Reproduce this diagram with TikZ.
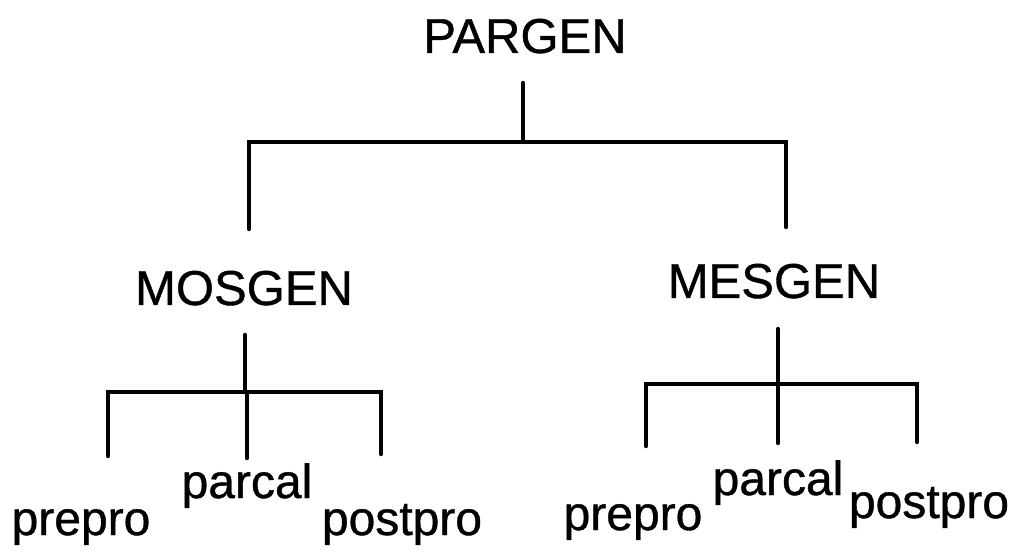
\documentclass[tikz,border=0pt]{standalone}
\usepackage{fontspec}
\setmainfont{Liberation Sans}
\newfontfamily\heavysans{Liberation Sans}[FakeBold=0.8]
\begin{document}
\begin{tikzpicture}[x=1pt,y=-1pt,
  lbl/.style={anchor=base,inner sep=0pt,font=\heavysans\fontsize{48}{48}\selectfont},
  modname/.style={anchor=base,inner sep=0pt,font=\heavysans\fontsize{49}{49}\selectfont},
  wire/.style={line width=4.5pt,line cap=round,line join=miter}]
\useasboundingbox (0,0) rectangle (1018,553);

% module names
\node[modname] (pargen) at (525,53) {PARGEN};
\node[modname] (mosgen) at (244,305) {MOSGEN};
\node[modname] (mesgen) at (774,298) {MESGEN};

\node[lbl] (mprepro)  at (81,535)  {prepro};
\node[lbl] (mparcal)  at (247,498) {parcal};
\node[lbl] (mpostpro) at (402,535) {postpro};

\node[lbl] (eprepro)  at (633,530) {prepro};
\node[lbl] (eparcal)  at (778,495) {parcal};
\node[lbl] (epostpro) at (929,518) {postpro};

% stub ends and junctions of the tree
\coordinate (pargen-out) at (523,83);
\coordinate (pargen-bar) at (523,142);
\coordinate (mosgen-in)  at (249,229);
\coordinate (mesgen-in)  at (786,227);

\coordinate (mosgen-out) at (245,335);
\coordinate (mosgen-bar) at (245,392);
\coordinate (mprepro-in)  at (108,456);
\coordinate (mparcal-in)  at (247,458);
\coordinate (mpostpro-in) at (381,454);

\coordinate (mesgen-out) at (778,329);
\coordinate (mesgen-bar) at (778,384);
\coordinate (eprepro-in)  at (646,446);
\coordinate (eparcal-in)  at (778,443);
\coordinate (epostpro-in) at (917,442);

% PARGEN level
\draw[wire] (pargen-out) -- (pargen-bar);
\draw[wire] (mosgen-in) |- (pargen-bar) -| (mesgen-in);

% MOSGEN level
\draw[wire] (mosgen-out) -- (mosgen-bar);
\draw[wire] (mprepro-in) |- (mosgen-bar) -| (mpostpro-in);
\draw[wire] (mosgen-bar -| mparcal-in) -- (mparcal-in);

% MESGEN level
\draw[wire] (mesgen-out) -- (mesgen-bar);
\draw[wire] (eprepro-in) |- (mesgen-bar) -| (epostpro-in);
\draw[wire] (mesgen-bar -| eparcal-in) -- (eparcal-in);
\end{tikzpicture}
\end{document}
